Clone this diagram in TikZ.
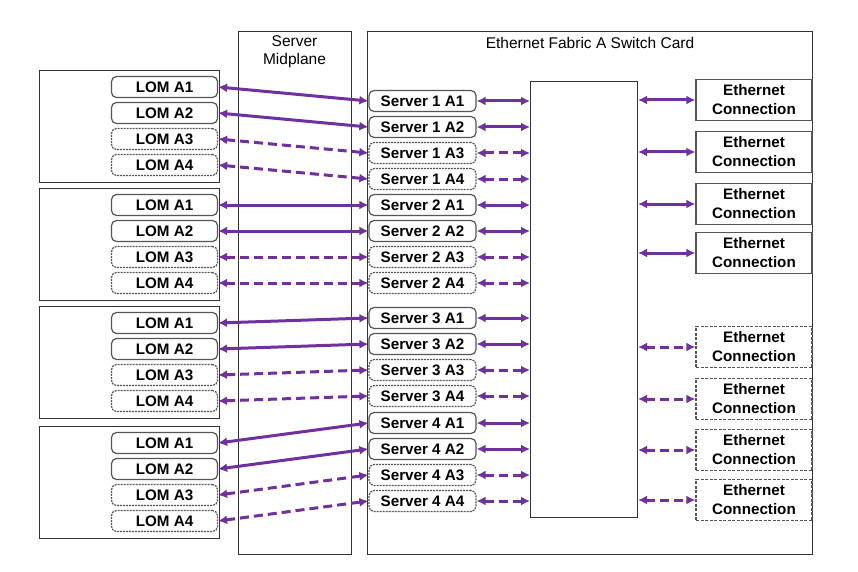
\documentclass[tikz,border=0pt]{standalone}
\usepackage{fontspec}
\setmainfont{Liberation Sans}
\usetikzlibrary{arrows.meta, positioning}
\definecolor{linkpurple}{RGB}{112,48,160}
\definecolor{edgegray}{RGB}{85,85,85}

\begin{document}
\begin{tikzpicture}[
        x=1pt, y=-1pt,
        every node/.style={font=\fontsize{15.5}{18}\selectfont, inner sep=0pt},
        frame/.style={draw=black!80, line width=1pt, anchor=north west},
        port/.style={draw=edgegray, line width=1.2pt, rounded corners=5pt, fill=white, minimum height=21pt, font=\fontsize{15.2}{18}\selectfont\bfseries},
        portdash/.style={port, dash pattern=on 2pt off 1pt},
        ethbox/.style={draw=edgegray, line width=1.2pt, fill=white, minimum width=116pt, minimum height=41pt, align=center, font=\fontsize{15.2}{19}\selectfont\bfseries},
        ethdash/.style={ethbox, dash pattern=on 3pt off 1.5pt},
        link/.style={{Latex[length=9pt,width=9pt]}-{Latex[length=9pt,width=9pt]}, line width=3pt, linkpurple},
        linkdash/.style={link, dash pattern=on 9pt off 5pt}
    ]
        \useasboundingbox (0,0) rectangle (858,572);

        % backplane and switch card
        \node[frame, minimum width=113pt, minimum height=523pt] (midplane) at (238,31) {};
        \node[frame, minimum width=445pt, minimum height=523pt] (card) at (367,31) {};
        \node[frame, minimum width=107pt, minimum height=436pt] (chip) at (530,81) {};
        \node[align=center] (midtitle) at (294.5,52) {Server\\Midplane};
        \node (cardtitle) at (590,43) {Ethernet Fabric A Switch Card};

        % blades with their LOM ports
        \foreach \g/\top/\sy in {1/70/101, 2/188/205, 3/306/318, 4/426/423} {
            \node[frame, minimum width=180pt, minimum height=112pt] (blade\g) at (39,\top) {};
            \foreach \a/\st/\lk in {1/port/link, 2/port/link, 3/portdash/linkdash, 4/portdash/linkdash} {
                \node[\st, minimum width=106pt] (lom\g\a) at (164.5,{\top+17+26*(\a-1)}) {LOM A\a};
                \node[\st, minimum width=107pt] (srv\g\a) at (422.5,{\sy+26*(\a-1)}) {Server \g{} A\a};
                \draw[\lk] (lom\g\a.east) -- (srv\g\a.west);
                \draw[\lk] (srv\g\a.east) -- (chip.west |- srv\g\a.east);
            }
        }

        % uplinks
        \foreach \e/\y/\st/\lk in {1/100/ethbox/link, 2/152/ethbox/link, 3/204/ethbox/link, 4/253/ethbox/link,
                                   5/347/ethdash/linkdash, 6/399/ethdash/linkdash, 7/450/ethdash/linkdash, 8/500/ethdash/linkdash} {
            \node[\st] (eth\e) at (754,\y) {Ethernet\\Connection};
            \draw[\lk] (chip.east |- eth\e.west) -- (eth\e.west);
        }
    \end{tikzpicture}
\end{document}
